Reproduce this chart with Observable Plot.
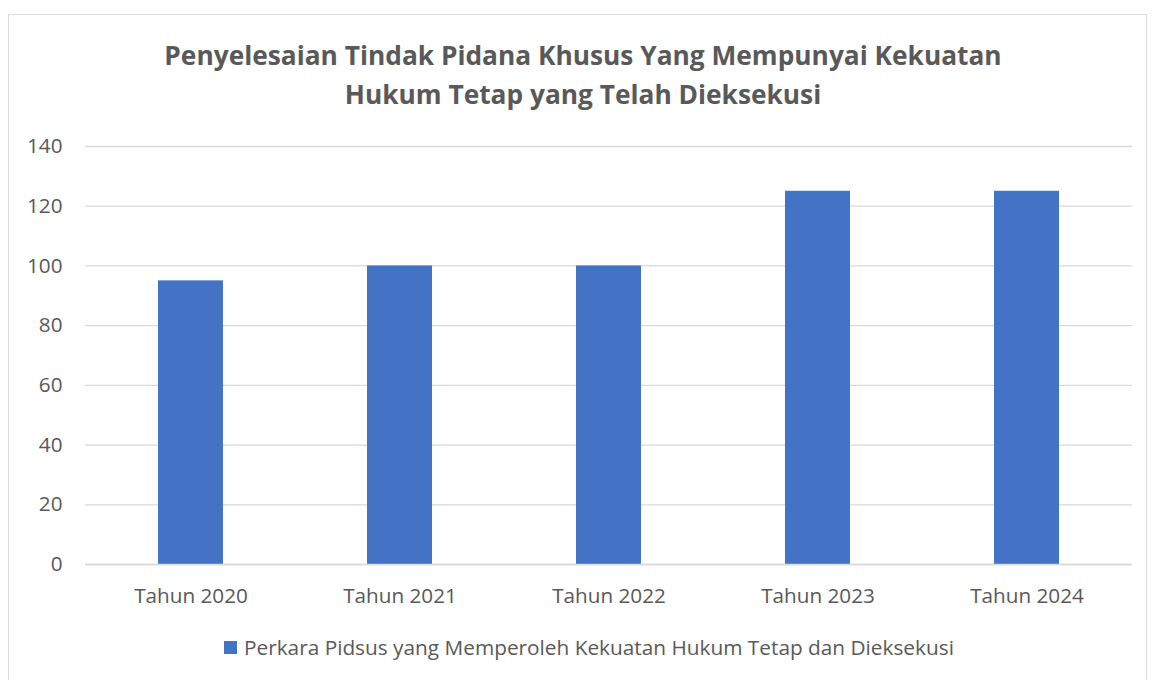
<!DOCTYPE html>
<html>
<head>
<meta charset="utf-8">
<script src="https://cdn.jsdelivr.net/npm/d3@7"></script>
<script src="https://cdn.jsdelivr.net/npm/@observablehq/plot@0.6"></script>
<style>
  html, body { margin: 0; padding: 0; background: #fff; }
  #wrap { position: relative; width: 1155px; height: 680px; overflow: hidden; font-family: "Open Sans", sans-serif; }
  #frame { position: absolute; left: 8px; top: 14px; width: 1139px; height: 700px; border: 1px solid #d9d9d9; box-sizing: border-box; }
  #title { position: absolute; left: 0; top: 36px; width: 1166px; text-align: center; font-weight: bold; font-size: 26.3px; line-height: 39px; color: #595959; }
  #chart { position: absolute; left: 0; top: 120px; }
  #legend { position: absolute; left: 224px; top: 633px; font-size: 20.8px; color: #595959; display: flex; align-items: center; white-space: nowrap; }
  #legend .sw { width: 13px; height: 13px; background: #4472C4; margin-right: 7px; }
</style>
</head>
<body>
<div id="wrap">
  <div id="frame"></div>
  <div id="title">Penyelesaian Tindak Pidana Khusus Yang Mempunyai Kekuatan<br>Hukum Tetap yang Telah Dieksekusi</div>
  <div id="chart"></div>
  <div id="legend"><div class="sw"></div><span id="legtext"></span></div>
</div>
<script>
const categories = ["Tahun 2020", "Tahun 2021", "Tahun 2022", "Tahun 2023", "Tahun 2024"];
const values = [95, 100, 100, 125, 125];
const yTicks = [0, 20, 40, 60, 80, 100, 120, 140];
const seriesName = "Perkara Pidsus yang Memperoleh Kekuatan Hukum Tetap dan Dieksekusi";
const barColor = "#4472C4";

const data = categories.map((c, i) => ({ cat: c, value: values[i] }));

document.getElementById("legtext").textContent = seriesName;

const chart = Plot.plot({
  width: 1155,
  height: 500,
  marginLeft: 85,
  marginRight: 23,
  marginTop: 26,
  marginBottom: 56,
  style: { fontFamily: "'Open Sans', sans-serif", fontSize: "20.7px", color: "#595959", background: "transparent" },
  x: { domain: categories, paddingInner: 0.69, paddingOuter: 0.345, label: null, tickSize: 0, tickPadding: 24 },
  y: { domain: [0, 140], ticks: yTicks, label: null, tickSize: 0, tickPadding: 23 },
  marks: [
    Plot.gridY(yTicks, { stroke: "#d9d9d9", strokeOpacity: 1, strokeWidth: 1.3 }),
    Plot.barY(data, { x: "cat", y: "value", fill: barColor }),
    Plot.ruleY([0], { stroke: "#d9d9d9", strokeWidth: 1.3 })
  ]
});
document.getElementById("chart").appendChild(chart);
</script>
</body>
</html>
